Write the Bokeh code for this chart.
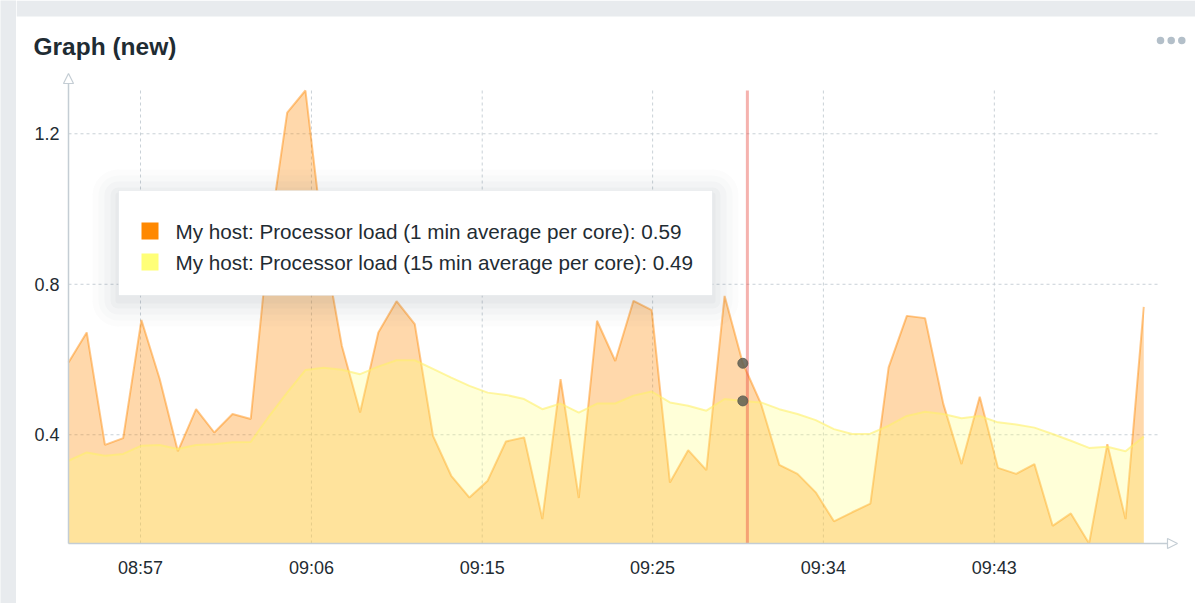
import numpy as np
from bokeh.plotting import figure
from bokeh.layouts import row, column
from bokeh.models import Range1d, FixedTicker, Label, BoxAnnotation, Arrow, NormalHead
from bokeh.embed import file_html
from bokeh.resources import INLINE

# ---------------- data ----------------
TITLE = "Graph (new)"
SERIES_1_NAME = "My host: Processor load (1 min average per core)"
SERIES_15_NAME = "My host: Processor load (15 min average per core)"

minutes = list(range(60))  # one sample per minute, starting ~08:53

load_1min = [0.592, 0.672, 0.373, 0.391, 0.705, 0.549, 0.356, 0.468, 0.406, 0.455,
             0.442, 0.923, 1.256, 1.315, 0.907, 0.636, 0.459, 0.672, 0.755, 0.694,
             0.397, 0.291, 0.233, 0.278, 0.382, 0.393, 0.176, 0.548, 0.232, 0.703,
             0.596, 0.756, 0.731, 0.273, 0.359, 0.306, 0.769, 0.590, 0.482, 0.320,
             0.296, 0.247, 0.170, 0.194, 0.217, 0.579, 0.716, 0.710, 0.482, 0.322,
             0.501, 0.312, 0.296, 0.322, 0.158, 0.191, 0.111, 0.375, 0.176, 0.740]

load_15min = [0.331, 0.353, 0.344, 0.349, 0.371, 0.373, 0.362, 0.373, 0.375, 0.380,
              0.381, 0.449, 0.512, 0.572, 0.578, 0.573, 0.561, 0.581, 0.598, 0.598,
              0.575, 0.552, 0.530, 0.512, 0.506, 0.495, 0.468, 0.483, 0.459, 0.483,
              0.483, 0.504, 0.515, 0.486, 0.477, 0.464, 0.495, 0.490, 0.486, 0.468,
              0.455, 0.439, 0.415, 0.402, 0.403, 0.424, 0.450, 0.461, 0.455, 0.444,
              0.450, 0.433, 0.427, 0.419, 0.402, 0.384, 0.365, 0.368, 0.356, 0.395]

x_tick_pos = [3.95, 13.33, 22.7, 32.05, 41.42, 50.8]
x_tick_labels = ["08:57", "09:06", "09:15", "09:25", "09:34", "09:43"]
y_ticks = [0.4, 0.8, 1.2]

HOVER_IDX = 37
HOVER_X = 37.25

# ---------------- layout (page pixel coordinates) ----------------
PAGE_W, PAGE_H = 1195, 603
CARD_X, CARD_Y = 16, 16          # white card origin
HEADER_H = 70                    # header strip height (page y 0..70)
BOTTOM_H = 6                     # grey strip below card
MAIN_W = PAGE_W - CARD_X
MAIN_H = PAGE_H - HEADER_H - BOTTOM_H

X0_PX, Y0_PX = 68, 543           # where minute 0 / y minimum sit
YMAX_PX = 90
GRID_R_PX = 1158
FRAME_L, FRAME_R, FRAME_T, FRAME_B = 60, 1180, 70, 549
DX = 18.225                      # pixels per minute

y_lo = min(load_1min + load_15min)
y_hi = max(load_1min + load_15min)
DY = (Y0_PX - YMAX_PX) / (y_hi - y_lo)


def px2x(px):
    return (px - X0_PX) / DX


def px2y(py):
    return y_lo + (Y0_PX - py) / DY


FONT = "Liberation Sans"
TXT = "#1f2c33"
AXIS_C = "#c4cdd4"
GRID_C = "#c9d1d7"
GREY_BG = "#e8ebee"
ORANGE = "#ff8800"
YELLOW = "#ffff77"


def blank(w, h, xr, yr, fill="white"):
    f = figure(width=w, height=h, output_backend="svg", toolbar_location=None,
               x_range=xr, y_range=yr, x_axis_location=None, y_axis_location=None,
               min_border=0)
    f.min_border_left = f.min_border_right = f.min_border_top = f.min_border_bottom = 0
    f.outline_line_color = None
    f.background_fill_color = fill
    f.border_fill_color = fill
    f.grid.visible = False
    return f


# ---- grey strips ----
left_strip = blank(CARD_X, PAGE_H, Range1d(0, 1), Range1d(0, 1), fill=GREY_BG)
bottom_strip = blank(MAIN_W, BOTTOM_H, Range1d(0, 1), Range1d(0, 1), fill=GREY_BG)

# ---- header: title + menu dots (coordinates are page pixels) ----
header = blank(MAIN_W, HEADER_H, Range1d(CARD_X, PAGE_W), Range1d(HEADER_H, 0))
header.quad(left=[CARD_X], right=[PAGE_W], top=[0], bottom=[CARD_Y],
            fill_color=GREY_BG, line_color=None)
header.add_layout(Label(x=33, y=46, text=TITLE, text_font=FONT, text_font_style="bold",
                        text_font_size="24.5px", text_color=TXT, text_baseline="middle"))
header.scatter(x=[1160, 1170.7, 1181.3], y=[40, 40, 40], size=7.5,
               color="#b3bfc9", line_color=None)

# ---- main chart ----
p_main = figure(width=MAIN_W, height=MAIN_H, output_backend="svg", toolbar_location=None,
                x_range=Range1d(px2x(FRAME_L), px2x(FRAME_R)),
                y_range=Range1d(px2y(FRAME_B), px2y(FRAME_T)),
                min_border_left=FRAME_L - CARD_X, min_border_right=PAGE_W - FRAME_R,
                min_border_top=FRAME_T - HEADER_H,
                min_border_bottom=(HEADER_H + MAIN_H) - FRAME_B)
p_main.outline_line_color = None
p_main.background_fill_color = "white"
p_main.border_fill_color = "white"
p_main.grid.visible = False

p_main.xaxis.ticker = FixedTicker(ticks=x_tick_pos)
p_main.xaxis.major_label_overrides = {t: l for t, l in zip(x_tick_pos, x_tick_labels)}
p_main.yaxis.ticker = FixedTicker(ticks=y_ticks)
for ax in (p_main.xaxis, p_main.yaxis):
    ax.axis_line_color = None
    ax.major_tick_line_color = None
    ax.minor_tick_line_color = None
    ax.major_tick_out = 0
    ax.major_tick_in = 0
    ax.major_label_text_font = FONT
    ax.major_label_text_font_size = "18px"
    ax.major_label_text_color = TXT
p_main.xaxis.major_label_standoff = 8
p_main.yaxis.major_label_standoff = 1

# grid lines (dotted) limited to the data area
x_grid_end = px2x(GRID_R_PX)
p_main.segment(x0=x_tick_pos, y0=[y_lo] * len(x_tick_pos), x1=x_tick_pos,
               y1=[y_hi] * len(x_tick_pos), line_color=GRID_C, line_dash="3 3", line_width=1)
p_main.segment(x0=[0] * len(y_ticks), y0=y_ticks, x1=[x_grid_end] * len(y_ticks), y1=y_ticks,
               line_color=GRID_C, line_dash="3 3", line_width=1)

# series
p_main.varea(x=minutes, y1=y_lo, y2=load_1min, fill_color=ORANGE, fill_alpha=0.33)
p_main.line(x=minutes, y=load_1min, line_color=ORANGE, line_alpha=0.45, line_width=2)
p_main.varea(x=minutes, y1=y_lo, y2=load_15min, fill_color=YELLOW, fill_alpha=0.29)
p_main.line(x=minutes, y=load_15min, line_color="#fff06a", line_alpha=0.6, line_width=2)

# hover line & points
p_main.segment(x0=[HOVER_X], y0=[y_lo], x1=[HOVER_X], y1=[y_hi], line_color="#e8483f",
               line_alpha=0.42, line_width=3)
p_main.scatter(x=[minutes[HOVER_IDX]] * 2, y=[load_1min[HOVER_IDX], load_15min[HOVER_IDX]],
               size=10, color="#5e5e52", alpha=0.85)

# axis arrows
p_main.add_layout(Arrow(x_start=0, y_start=y_lo, x_end=0, y_end=px2y(73),
                        line_color=AXIS_C, line_width=1.5,
                        end=NormalHead(size=10, fill_color="white", line_color=AXIS_C,
                                       line_width=1.2)))
p_main.add_layout(Arrow(x_start=0, y_start=y_lo, x_end=px2x(1177), y_end=y_lo,
                        line_color=AXIS_C, line_width=1.5,
                        end=NormalHead(size=10, fill_color="white", line_color=AXIS_C,
                                       line_width=1.2)))

# tooltip
TL, TR, TT, TB = 118, 712, 190, 295
for k, a in [(26, 0.02), (20, 0.025), (14, 0.03), (8, 0.035), (3, 0.04)]:
    p_main.add_layout(BoxAnnotation(left=px2x(TL - k), right=px2x(TR + k), top=px2y(TT - k + 5),
                                    bottom=px2y(TB + k + 5), fill_color="#5a6b7b", fill_alpha=a,
                                    line_color=None, border_radius=k, level="overlay"))
p_main.add_layout(BoxAnnotation(left=px2x(TL), right=px2x(TR), top=px2y(TT), bottom=px2y(TB),
                                fill_color="white", fill_alpha=1, line_color="#d3dade",
                                line_width=1, level="overlay"))
rows = [(ORANGE, 231, f"{SERIES_1_NAME}: {load_1min[HOVER_IDX]:.2f}"),
        (YELLOW, 262, f"{SERIES_15_NAME}: {load_15min[HOVER_IDX]:.2f}")]
for col, cy, txt in rows:
    p_main.add_layout(BoxAnnotation(left=px2x(141), right=px2x(158), top=px2y(cy - 9),
                                    bottom=px2y(cy + 8), fill_color=col, fill_alpha=1,
                                    line_color=None, level="overlay"))
    p_main.add_layout(Label(x=px2x(175), y=px2y(cy), text=txt, text_font=FONT,
                            text_font_size="20.7px", text_color=TXT, text_baseline="middle",
                            level="overlay"))

# header and chart in separate rows so their frames are not aligned with each other
p = row(left_strip, column(row(header), row(p_main), row(bottom_strip)))

open("out.html", "w").write(file_html(p, INLINE))
